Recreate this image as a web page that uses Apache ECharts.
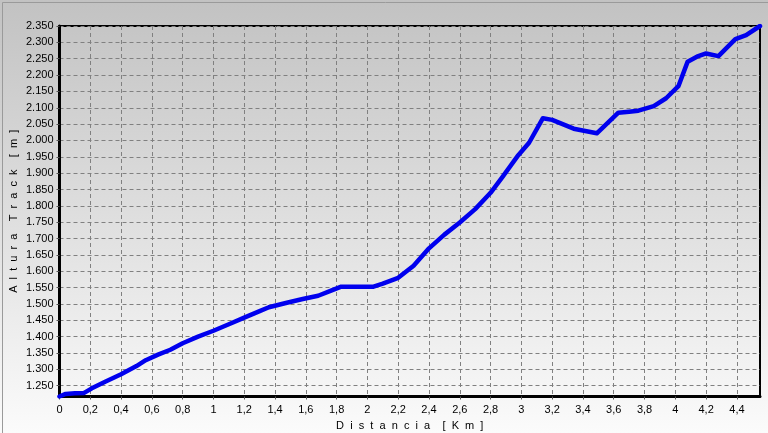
<!DOCTYPE html>
<html>
<head>
<meta charset="utf-8">
<script src="https://cdn.jsdelivr.net/npm/echarts@6/dist/echarts.min.js"></script>
<style>html,body{margin:0;padding:0;background:#fff}#c{width:768px;height:433px}</style>
</head>
<body>
<div id="c"></div>
<script>
var distKm = [0, 0.04, 0.1, 0.16, 0.21, 0.3, 0.4, 0.5, 0.56, 0.64, 0.72, 0.8, 0.9, 1.0, 1.1, 1.2, 1.3, 1.36, 1.47, 1.58, 1.68, 1.76, 1.83, 2.04, 2.1, 2.2, 2.3, 2.4, 2.5, 2.6, 2.7, 2.8, 2.88, 2.98, 3.05, 3.14, 3.2, 3.34, 3.49, 3.63, 3.7, 3.76, 3.86, 3.94, 4.02, 4.08, 4.14, 4.2, 4.28, 4.39, 4.46, 4.55];
var alturaM = [1217, 1225, 1227, 1228, 1242, 1263, 1285, 1310, 1328, 1345, 1360, 1380, 1400, 1418, 1438, 1458, 1478, 1490, 1503, 1515, 1525, 1540, 1553, 1553, 1562, 1580, 1617, 1670, 1712, 1749, 1790, 1840, 1890, 1955, 1993, 2068, 2063, 2036, 2022, 2085, 2088, 2091, 2105, 2129, 2166, 2241, 2256, 2266, 2258, 2310, 2322, 2350];
var yTicks = [1250, 1300, 1350, 1400, 1450, 1500, 1550, 1600, 1650, 1700, 1750, 1800, 1850, 1900, 1950, 2000, 2050, 2100, 2150, 2200, 2250, 2300, 2350];
var xTicks = [0, 0.2, 0.4, 0.6, 0.8, 1, 1.2, 1.4, 1.6, 1.8, 2, 2.2, 2.4, 2.6, 2.8, 3, 3.2, 3.4, 3.6, 3.8, 4, 4.2, 4.4];
var xName = 'D  i  s  t  a  n  c  i  a    [  K  m  ]';
var yName = 'A  l  t  u  r  a    T  r  a  c  k    [  m  ]';

var pts = distKm.map(function (d, i) { return [d, alturaM[i]]; });
var chart = echarts.init(document.getElementById('c'), null, {renderer: 'canvas'});
var font = 'Liberation Sans, Arial, sans-serif';
chart.setOption({
  animation: false,
  backgroundColor: {
    type: 'linear', x: 0, y: 0, x2: 0, y2: 1,
    colorStops: [{offset: 0, color: '#c2c2c2'}, {offset: 1, color: '#fbfbfb'}]
  },
  graphic: [{
    type: 'rect', left: 0, top: 0, z: 100, silent: true,
    shape: {x: 0.5, y: 0.5, width: 766, height: 431},
    style: {fill: 'none', stroke: '#9a9a9a', lineWidth: 1}
  }],
  grid: {left: 59.5, right: 8, top: 26, bottom: 36.5, containLabel: false, outerBoundsMode: 'none', show: true, borderColor: '#000', borderWidth: 2, backgroundColor: 'transparent'},
  xAxis: {
    type: 'value', min: 0, max: 4.55,
    name: xName, nameLocation: 'middle', nameGap: 24, nameMoveOverlap: false,
    nameTextStyle: {fontFamily: font, fontSize: 11, color: '#000'},
    axisLine: {show: true, lineStyle: {color: '#000', width: 3}},
    axisTick: {show: true, customValues: xTicks, length: 3, lineStyle: {color: '#555'}},
    minorTick: {show: false},
    axisLabel: {
      customValues: xTicks, margin: 8,
      fontFamily: font, fontSize: 11, color: '#000',
      formatter: function (v) { return String(Math.round(v * 10) / 10).replace('.', ','); }
    },
    splitLine: {show: true, lineStyle: {color: '#808080', width: 1, type: [4, 3]}}
  },
  yAxis: {
    type: 'value', min: 1217, max: 2350,
    name: yName, nameLocation: 'middle', nameGap: 40, nameMoveOverlap: false,
    nameTextStyle: {fontFamily: font, fontSize: 11, color: '#000'},
    axisLine: {show: true, lineStyle: {color: '#000', width: 3}},
    axisTick: {show: true, customValues: yTicks, length: 3, lineStyle: {color: '#555'}},
    axisLabel: {
      customValues: yTicks, margin: 6,
      fontFamily: font, fontSize: 11, color: '#000',
      formatter: function (v) { return String(v).replace(/^(\d)(\d{3})$/, '$1.$2'); }
    },
    splitLine: {show: true, lineStyle: {color: '#808080', width: 1, type: [4, 3]}}
  },
  series: [{
    type: 'line', data: pts, showSymbol: false, smooth: false,
    lineStyle: {color: '#0000ee', width: 4.5, join: 'round', cap: 'round'},
    z: 5
  }]
});
</script>
</body>
</html>
